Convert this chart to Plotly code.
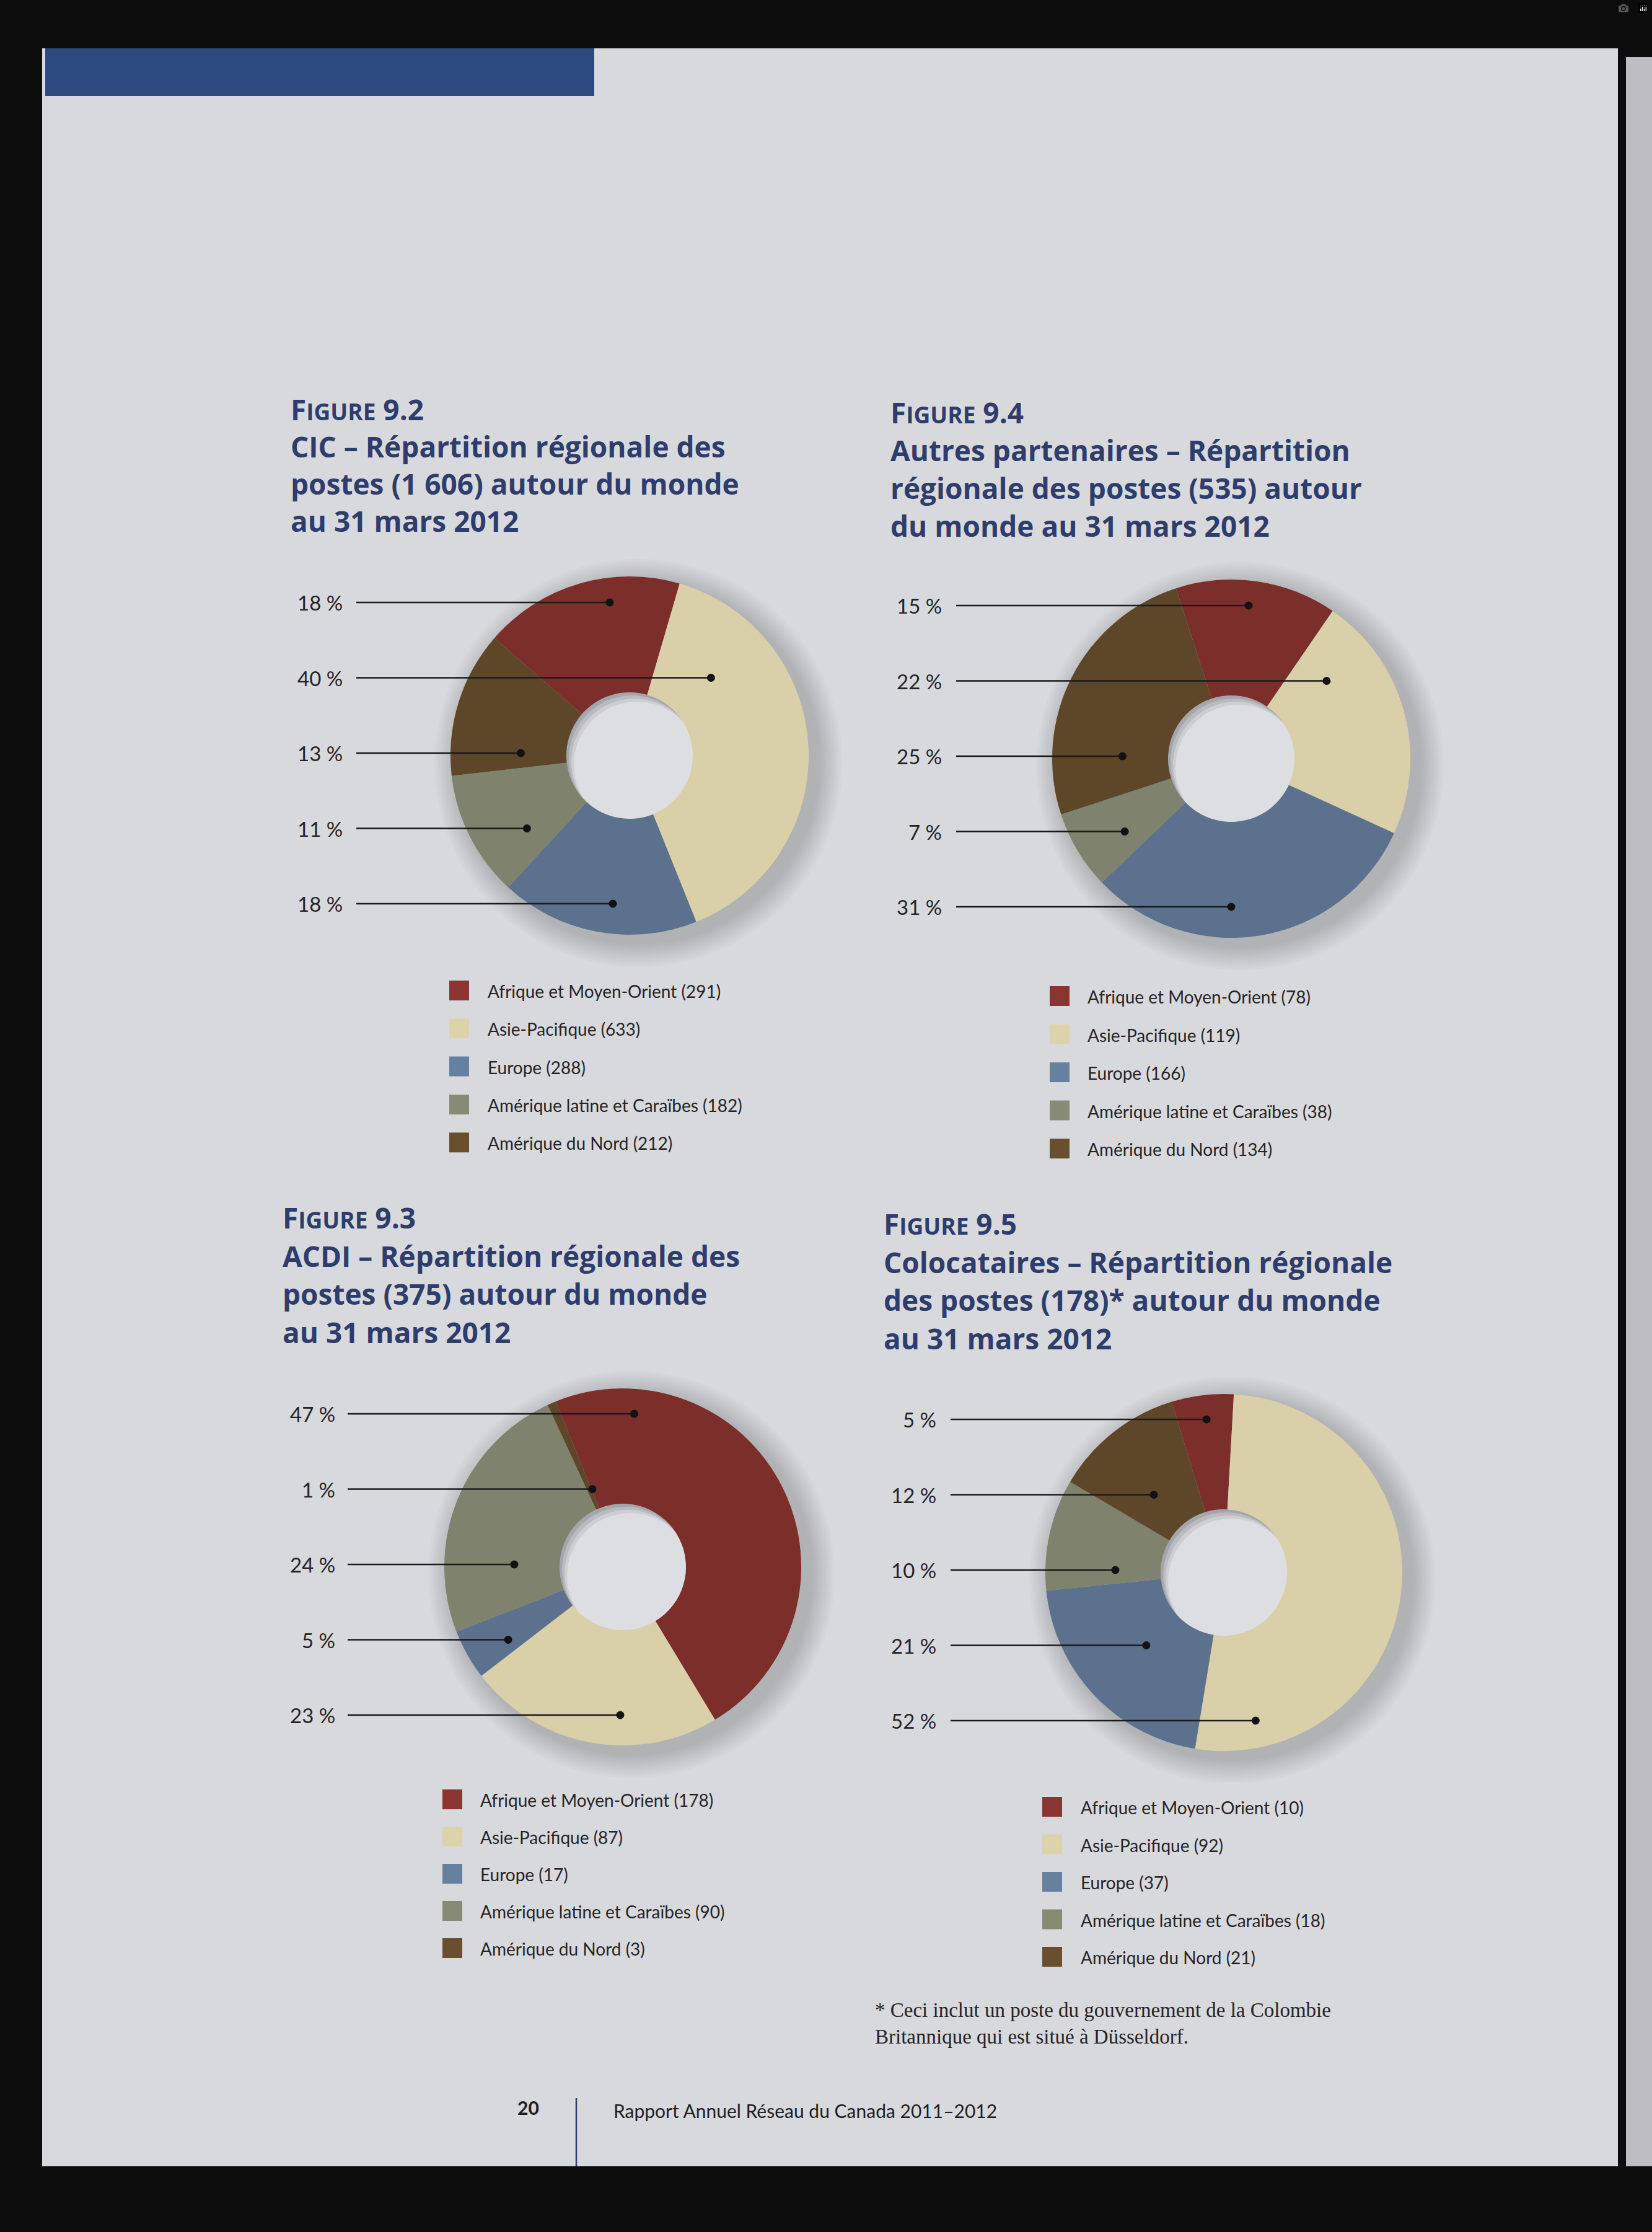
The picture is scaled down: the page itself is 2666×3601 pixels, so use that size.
import math
import numpy as np
import plotly.graph_objects as go

W, H = 2666, 3601

# ---------------- data ----------------
REGIONS = ["Afrique et Moyen-Orient", "Asie-Pacifique", "Europe",
           "Amérique latine et Caraïbes", "Amérique du Nord"]

# Figure 9.2 - CIC
cic_values = [291, 633, 288, 182, 212]
cic_pct = [18, 40, 18, 11, 13]
cic_rows = [0, 1, 4, 3, 2]          # region shown on each label row (top -> bottom)

# Figure 9.4 - Autres partenaires
autres_values = [78, 119, 166, 38, 134]
autres_pct = [15, 22, 31, 7, 25]
autres_rows = [0, 1, 4, 3, 2]

# Figure 9.3 - ACDI
acdi_values = [178, 87, 17, 90, 3]
acdi_pct = [47, 23, 5, 24, 1]
acdi_rows = [0, 4, 3, 2, 1]

# Figure 9.5 - Colocataires
coloc_values = [10, 92, 37, 18, 21]
coloc_pct = [5, 52, 21, 10, 12]
coloc_rows = [0, 4, 3, 2, 1]

cic_title = ["9.2", "CIC – Répartition régionale des",
             "postes (1 606) autour du monde", "au 31 mars 2012"]
autres_title = ["9.4", "Autres partenaires – Répartition",
                "régionale des postes (535) autour", "du monde au 31 mars 2012"]
acdi_title = ["9.3", "ACDI – Répartition régionale des",
              "postes (375) autour du monde", "au 31 mars 2012"]
coloc_title = ["9.5", "Colocataires – Répartition régionale",
               "des postes (178)* autour du monde", "au 31 mars 2012"]

footnote = ["* Ceci inclut un poste du gouvernement de la Colombie",
            "Britannique qui est situé à Düsseldorf."]
page_number = "20"
footer_text = "Rapport Annuel Réseau du Canada 2011–2012"

# ---------------- style ----------------
SLICE_COLORS = ["#7b2e2a", "#d9cfa9", "#5b718d", "#7f826c", "#5e4629"]
LEGEND_COLORS = ["#8a3531", "#ddd3ab", "#6680a0", "#888b73", "#6a4f2f"]
PAGE = "#d8d9dd"
NAVY = "#2e3d6c"
INK = "#262324"
SANS = "Lato"
TITLE_FONT = "Open Sans"

charts = [
    dict(values=cic_values, pct=cic_pct, rows=cic_rows, title=cic_title,
         cx=1016, cy=1219, R=289, rot=-49, tx=469, tb=[676, 736, 796, 856],
         lab_r=555, line_x=575, sq_x=725, leg_x=785, leg_y=1598, leg_step=61.3),
    dict(values=autres_values, pct=autres_pct, rows=autres_rows, title=autres_title,
         cx=1987, cy=1224, R=289, rot=-18, tx=1437, tb=[681, 742, 803, 864],
         lab_r=1522, line_x=1543, sq_x=1694, leg_x=1753, leg_y=1607, leg_step=61.5),
    dict(values=acdi_values, pct=acdi_pct, rows=acdi_rows, title=acdi_title,
         cx=1005, cy=2528, R=288, rot=-22, tx=456, tb=[1980, 2042, 2103, 2165],
         lab_r=543, line_x=561, sq_x=714, leg_x=773, leg_y=2903, leg_step=60.0),
    dict(values=coloc_values, pct=coloc_pct, rows=coloc_rows, title=coloc_title,
         cx=1975, cy=2537, R=288, rot=-17, tx=1426, tb=[1990, 2052, 2113, 2175],
         lab_r=1513, line_x=1534, sq_x=1682, leg_x=1742, leg_y=2915, leg_step=60.5),
]
RH = 102            # hole radius (px)
ROW0, ROW_STEP = -247, 121.5


def PX(x):
    return x / W


def PY(y):
    return 1 - y / H


def circle(cx, cy, r, color, layer="below"):
    return dict(type="circle", xref="paper", yref="paper",
                x0=PX(cx - r), x1=PX(cx + r), y0=PY(cy + r), y1=PY(cy - r),
                fillcolor=color, line=dict(width=0), layer=layer)


def rect(x0, y0, x1, y1, color, layer="below"):
    return dict(type="rect", xref="paper", yref="paper",
                x0=PX(x0), x1=PX(x1), y0=PY(y1), y1=PY(y0),
                fillcolor=color, line=dict(width=0), layer=layer)


def dot_x(values, rot, cx, cy, R, idx, y):
    """x where the horizontal row y crosses the middle of slice idx (clockwise pie)."""
    total = float(sum(values))
    a0 = rot + 360.0 * sum(values[:idx]) / total
    span = 360.0 * values[idx] / total
    dy = y - cy
    runs, cur = [], []
    for x in np.arange(cx - R, cx + R + 1, 1.0):
        dx = x - cx
        r = math.hypot(dx, dy)
        ok = False
        if RH + 4 <= r <= R - 4:
            ang = math.degrees(math.atan2(dx, -dy))
            ok = ((ang - a0) % 360.0) <= span
        if ok:
            cur.append(x)
        elif cur:
            runs.append(cur)
            cur = []
    if cur:
        runs.append(cur)
    if not runs:
        return cx
    best = max(runs, key=len)
    mid = 0.5 * (best[0] + best[-1])
    # leader dots sit a little toward the centre of the ring
    return cx + 0.9 * (mid - cx)


fig = go.Figure()
shapes = []
annotations = []

# page
shapes.append(rect(68, 78, 2611, 3495, PAGE))
shapes.append(rect(2624, 92, 2666, 3495, "#bdbdc2"))
shapes.append(rect(73, 78, 959, 155, "#2d4a7e"))

for c in charts:
    cx, cy, R = c["cx"], c["cy"], c["R"]
    # soft drop shadow
    for k in range(10, 0, -1):
        shapes.append(circle(cx + 14, cy + 12, R + 4 * k, "rgba(60,60,72,0.028)"))
    # shaded hole
    shapes.append(circle(cx, cy, RH, "#a5a6ab"))
    shapes.append(circle(cx + 4, cy + 5, RH, "#babbc0"))
    shapes.append(circle(cx + 8, cy + 10, RH, "#cdced2"))
    shapes.append(circle(cx + 12, cy + 15, RH, "#dddee1"))

    fig.add_trace(go.Pie(
        values=c["values"], labels=REGIONS, sort=False, direction="clockwise",
        rotation=c["rot"], hole=RH / R, textinfo="none", hoverinfo="label+value+percent",
        marker=dict(colors=SLICE_COLORS, line=dict(width=0)),
        domain=dict(x=[PX(cx - R), PX(cx + R)], y=[PY(cy + R), PY(cy - R)]),
        showlegend=False,
    ))

    # title
    t = c["title"]
    lines = ["F<span style='font-size:37px'>IGURE</span> " + t[0]] + t[1:]
    for ln, base in zip(lines, c["tb"]):
        annotations.append(dict(
            x=PX(c["tx"] - 2), y=PY(base - 16), xref="paper", yref="paper",
            xanchor="left", yanchor="middle", showarrow=False, text="<b>%s</b>" % ln,
            font=dict(family=TITLE_FONT, size=46, color=NAVY)))

    # percentage labels with leader lines
    for i, reg in enumerate(c["rows"]):
        y = cy + ROW0 + i * ROW_STEP
        dx = dot_x(c["values"], c["rot"], cx, cy, R, reg, y)
        annotations.append(dict(
            x=PX(c["lab_r"]), y=PY(y), xref="paper", yref="paper",
            xanchor="right", yanchor="middle", showarrow=False,
            text="%d %%" % c["pct"][reg],
            font=dict(family=SANS, size=33, color=INK)))
        shapes.append(dict(type="line", xref="paper", yref="paper",
                           x0=PX(c["line_x"]), x1=PX(dx), y0=PY(y), y1=PY(y),
                           line=dict(color="#1a1a1a", width=2.5), layer="above"))
        shapes.append(circle(dx, y, 6.5, "#121212", layer="above"))

    # legend
    for i, (reg, v) in enumerate(zip(REGIONS, c["values"])):
        y = c["leg_y"] + i * c["leg_step"]
        shapes.append(rect(c["sq_x"], y - 16, c["sq_x"] + 32, y + 16, LEGEND_COLORS[i]))
        annotations.append(dict(
            x=PX(c["leg_x"]), y=PY(y + 1), xref="paper", yref="paper",
            xanchor="left", yanchor="middle", showarrow=False,
            text="%s (%d)" % (reg, v),
            font=dict(family=SANS, size=28, color=INK)))

# footnote
for ln, yy in zip(footnote, [3243, 3286]):
    annotations.append(dict(
        x=PX(1410), y=PY(yy), xref="paper", yref="paper",
        xanchor="left", yanchor="middle", showarrow=False, text=ln,
        font=dict(family="Liberation Serif", size=33, color=INK)))

# footer
annotations.append(dict(x=PX(852), y=PY(3400), xref="paper", yref="paper",
                        xanchor="center", yanchor="middle", showarrow=False,
                        text="<b>%s</b>" % page_number,
                        font=dict(family=SANS, size=30, color="#1e1e1e")))
annotations.append(dict(x=PX(988), y=PY(3405), xref="paper", yref="paper",
                        xanchor="left", yanchor="middle", showarrow=False,
                        text=footer_text,
                        font=dict(family=SANS, size=30, color="#1e1e1e")))
shapes.append(dict(type="line", xref="paper", yref="paper",
                   x0=PX(930), x1=PX(930), y0=PY(3385), y1=PY(3495),
                   line=dict(color=NAVY, width=2.5), layer="above"))

fig.update_layout(
    width=W, height=H, margin=dict(l=0, r=0, t=0, b=0, autoexpand=False),
    paper_bgcolor="#0c0c0c", plot_bgcolor="#0c0c0c",
    showlegend=False, shapes=shapes, annotations=annotations,
)

fig.write_html("out.html", post_script="document.body.style.margin='0';")
